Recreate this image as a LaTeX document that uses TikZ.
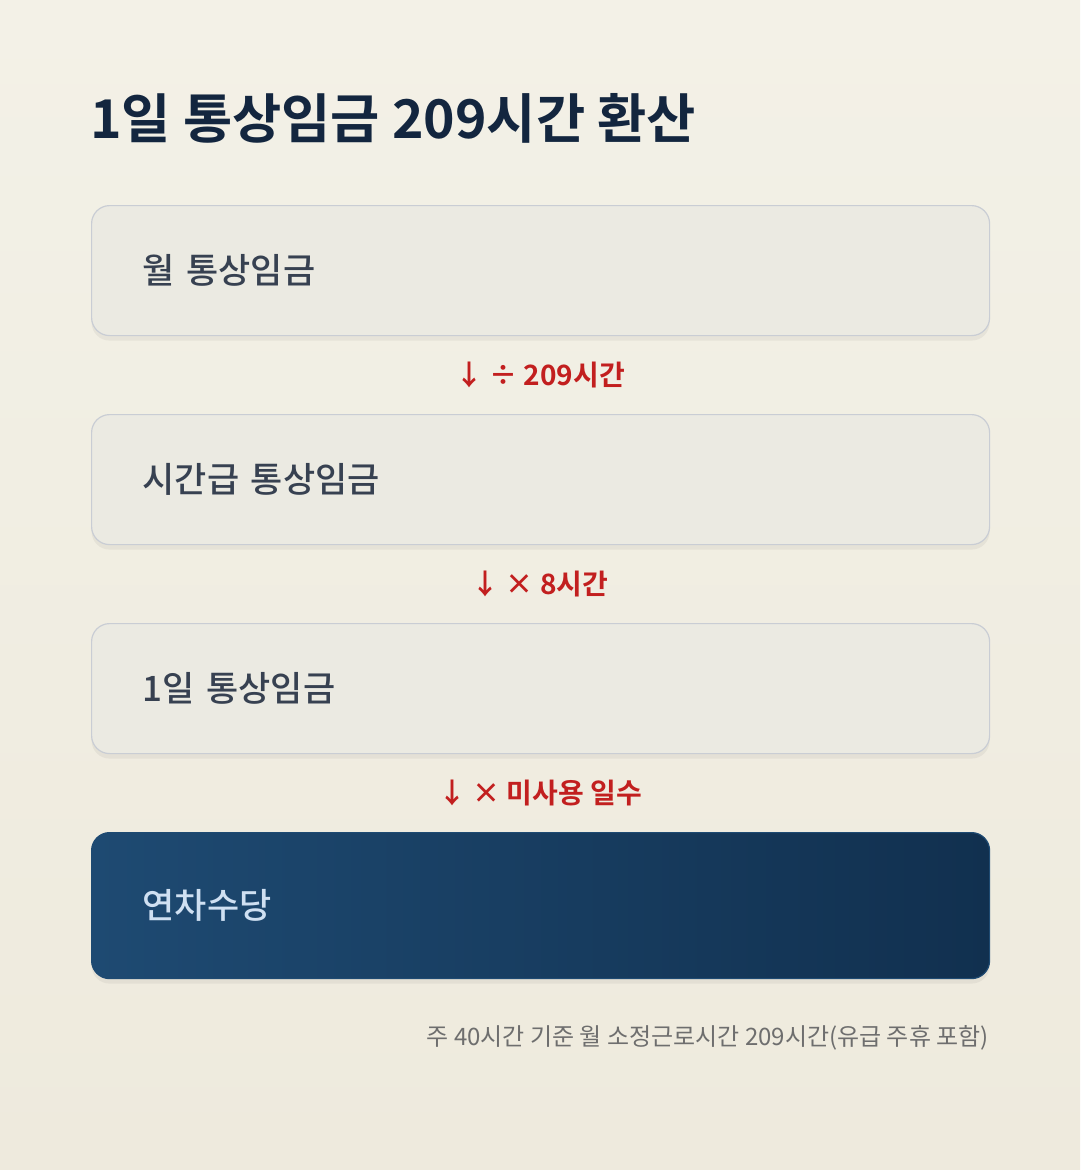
\documentclass[tikz,border=0pt]{standalone}
\usepackage{fontspec}
\usepackage{tikz}
\usetikzlibrary{shadows}
\usetikzlibrary{positioning}
\usepackage{xcolor}
\setmainfont{Noto Sans CJK KR}
\newfontfamily\krbold{Noto Sans CJK KR Bold}
\newfontfamily\krmedium{Noto Sans CJK KR Medium}

\definecolor{paper}{HTML}{F3F1E7}
\definecolor{paperlow}{HTML}{EEEADD}
\definecolor{boxfill}{HTML}{EBEAE2}
\definecolor{boxline}{HTML}{C9CDD4}
\definecolor{boxtext}{HTML}{374151}
\definecolor{navy}{HTML}{13263F}
\definecolor{stepred}{HTML}{C21F1F}
\definecolor{darkleft}{HTML}{1E4A72}
\definecolor{darkright}{HTML}{11304F}
\definecolor{lighttext}{HTML}{CFE0F2}
\definecolor{notegray}{HTML}{6E6E6E}

\begin{document}
\begin{tikzpicture}[x=1pt,y=-1pt,
    card/.style={draw=boxline, line width=1.2pt, fill=boxfill, rounded corners=18pt,
      minimum width=898pt, inner xsep=51pt, text width=796pt, align=left,
      anchor=north west, text=boxtext, font=\krmedium\fontsize{35}{40}\selectfont,
      drop shadow={shadow xshift=0pt, shadow yshift=-5pt, opacity=0.07, fill=black!70}},
    stepnote/.style={text=stepred, font=\krbold\fontsize{28}{32}\selectfont},
  ]
    \shade[top color=paper, bottom color=paperlow] (0,0) rectangle (1080,1170);
    \useasboundingbox (0,0) rectangle (1080,1170);
    \node[anchor=west, text=navy, font=\krbold\fontsize{53.5}{58}\selectfont, inner sep=0pt] (title) at (90,118) {1일 통상임금 209시간 환산};
    \node[card, minimum height=130pt] (monthly) at (91,205) {월 통상임금};
    \node[stepnote] (div) at (540,375) {↓ ÷ 209시간};
    \node[card, minimum height=130pt] (hourly) at (91,414) {시간급 통상임금};
    \node[stepnote] (eight) at (540,584) {↓ × 8시간};
    \node[card, minimum height=130pt] (daily) at (91,623) {1일 통상임금};
    \node[stepnote] (days) at (540,793) {↓ × 미사용 일수};
    \node[card, minimum height=146pt, draw=darkleft, left color=darkleft, right color=darkright, text=lighttext] (allowance) at (91,832) {연차수당};
    \node[anchor=east, text=notegray, font=\fontsize{24}{28}\selectfont, inner sep=0pt] (note) at (989,1038) {주 40시간 기준 월 소정근로시간 209시간(유급 주휴 포함)};
  \end{tikzpicture}
\end{document}
